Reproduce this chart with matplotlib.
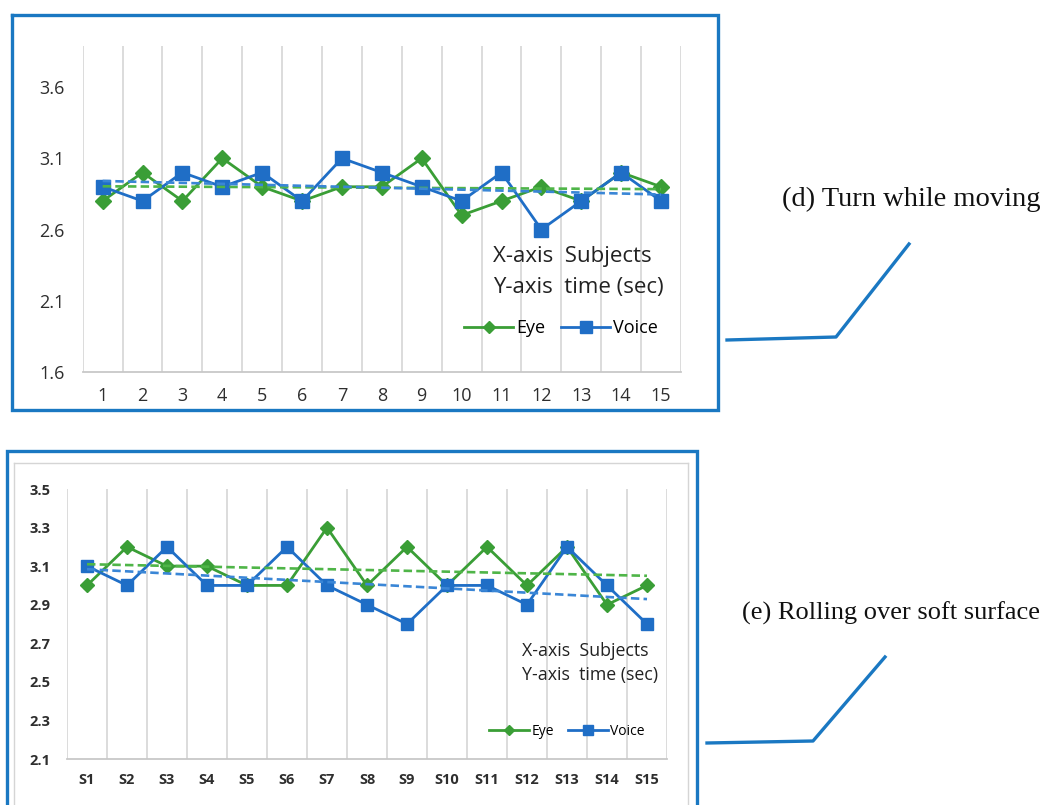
import numpy as np
import matplotlib
matplotlib.use("Agg")
import matplotlib.pyplot as plt
from matplotlib.lines import Line2D

plt.rcParams["font.family"] = ["Open Sans", "DejaVu Sans"]

# ---- (d) Turn while moving ----
subjects_d = [str(i) for i in range(1, 16)]
eye_d = [2.8, 3.0, 2.8, 3.1, 2.9, 2.8, 2.9, 2.9, 3.1, 2.7, 2.8, 2.9, 2.8, 3.0, 2.9]
voice_d = [2.9, 2.8, 3.0, 2.9, 3.0, 2.8, 3.1, 3.0, 2.9, 2.8, 3.0, 2.6, 2.8, 3.0, 2.8]
yticks_d = [1.6, 2.1, 2.6, 3.1, 3.6]

# ---- (e) Rolling over soft surface ----
subjects_e = ["S%d" % i for i in range(1, 16)]
eye_e = [3.0, 3.2, 3.1, 3.1, 3.0, 3.0, 3.3, 3.0, 3.2, 3.0, 3.2, 3.0, 3.2, 2.9, 3.0]
voice_e = [3.1, 3.0, 3.2, 3.0, 3.0, 3.2, 3.0, 2.9, 2.8, 3.0, 3.0, 2.9, 3.2, 3.0, 2.8]
eye_err_e = 0.015
yticks_e = [2.1, 2.3, 2.5, 2.7, 2.9, 3.1, 3.3, 3.5]

caption_d = "(d) Turn while moving"
caption_e = "(e) Rolling over soft surface"

GREEN = "#3a9e36"
BLUE = "#1f6ec6"
GREEN_T = "#4fb548"
BLUE_T = "#3a86d6"
FRAME = "#1a78c2"
GRID = "#d9d9d9"

W, H = 1043, 805
fig = plt.figure(figsize=(W / 100, H / 100), dpi=100)


def px_axes(x0, x1, y0, y1):
    return fig.add_axes([x0 / W, 1 - y1 / H, (x1 - x0) / W, (y1 - y0) / H])


def style_axes(ax, n, labels, yticks, ylim, tick_fs, bold, ypad, xpad):
    x = np.arange(1, n + 1)
    ax.set_xlim(0.5, n + 0.5)
    ax.set_ylim(*ylim)
    ax.set_xticks(x)
    ax.set_xticklabels(labels)
    ax.set_xticks(np.arange(0.5, n + 1, 1.0), minor=True)
    ax.grid(True, which="minor", axis="x", color=GRID, lw=1.3)
    ax.set_yticks(yticks)
    ax.set_yticklabels(["%.1f" % v for v in yticks])
    ax.tick_params(which="both", length=0)
    ax.tick_params(axis="x", pad=xpad, labelsize=tick_fs, labelcolor="#2e2e2e")
    ax.tick_params(axis="y", pad=ypad, labelsize=tick_fs, labelcolor="#2e2e2e")
    for lab in ax.get_xticklabels() + ax.get_yticklabels():
        lab.set_fontweight("bold" if bold else "normal")
    for s in ("left", "right", "top"):
        ax.spines[s].set_visible(False)
    ax.spines["bottom"].set_color("#c8c8c8")
    ax.spines["bottom"].set_linewidth(1.3)
    ax.set_axisbelow(True)
    ax.patch.set_alpha(0)


def draw_series(ax, eye, voice, ms_d, ms_s, eye_err=None):
    x = np.arange(1, len(eye) + 1)
    if eye_err is None:
        ax.plot(x, eye, color=GREEN, lw=2.0, marker="D", ms=ms_d, zorder=3)
    else:
        ax.errorbar(x, eye, yerr=eye_err, color=GREEN, lw=2.0, marker="D",
                    ms=ms_d, capsize=3, elinewidth=1.2, ecolor="#6a8a60", zorder=3)
    ax.plot(x, voice, color=BLUE, lw=2.0, marker="s", ms=ms_s, zorder=4)
    for vals, col in ((eye, GREEN_T), (voice, BLUE_T)):
        k, b = np.polyfit(x, vals, 1)
        ax.plot(x, k * x + b, color=col, lw=1.9, ls=(0, (3.2, 1.6)), zorder=5)


# Chart (d)
ax_d = px_axes(82.7, 681, 46, 372)
style_axes(ax_d, 15, subjects_d, yticks_d, (1.6, 3.888), 13, False, 13, 11)
draw_series(ax_d, eye_d, voice_d, 8.5, 9.5)
ax_d.text(493 / W, 1 - 256 / H, "X-axis  Subjects", transform=fig.transFigure,
          fontsize=16, color="#222222", va="center", ha="left")
ax_d.text(493 / W, 1 - 288 / H, "Y-axis  time (sec)", transform=fig.transFigure,
          fontsize=16, color="#222222", va="center", ha="left")
h_d = [Line2D([], [], color=GREEN, lw=2.0, marker="D", ms=6.5),
       Line2D([], [], color=BLUE, lw=2.0, marker="s", ms=8)]
ax_d.legend(h_d, ["Eye", "Voice"], ncol=2, frameon=False, fontsize=13,
            handlelength=2.7, handletextpad=0.15, columnspacing=0.9,
            loc="center", bbox_to_anchor=(561 / W, 1 - 328 / H),
            bbox_transform=fig.transFigure, numpoints=1)

# Chart (e)
ax_e = px_axes(67, 667, 489, 759)
style_axes(ax_e, 15, subjects_e, yticks_e, (2.1, 3.5), 10.5, True, 12, 10)
draw_series(ax_e, eye_e, voice_e, 7.5, 9, eye_err=eye_err_e)
ax_e.text(522 / W, 1 - 651 / H, "X-axis  Subjects", transform=fig.transFigure,
          fontsize=12.8, color="#222222", va="center", ha="left")
ax_e.text(522 / W, 1 - 675 / H, "Y-axis  time (sec)", transform=fig.transFigure,
          fontsize=12.8, color="#222222", va="center", ha="left")
h_e = [Line2D([], [], color=GREEN, lw=2.0, marker="D", ms=5.5),
       Line2D([], [], color=BLUE, lw=2.0, marker="s", ms=7)]
ax_e.legend(h_e, ["Eye", "Voice"], ncol=2, frameon=False, fontsize=10,
            handlelength=2.9, handletextpad=0.15, columnspacing=1.0,
            loc="center", bbox_to_anchor=(567 / W, 1 - 731 / H),
            bbox_transform=fig.transFigure, numpoints=1)

# Overlay: panel frames, captions and connector strokes
ov = fig.add_axes([0, 0, 1, 1], zorder=10)
ov.set_xlim(0, W)
ov.set_ylim(H, 0)
ov.axis("off")
ov.patch.set_alpha(0)

ov.plot([12, 718, 718, 12, 12], [15, 15, 410, 410, 15], color=FRAME, lw=2.4,
        solid_joinstyle="miter")
ov.plot([14, 688], [463, 463], color="#d5d5d5", lw=1.0)
ov.plot([14, 14], [463, 810], color="#d5d5d5", lw=1.0)
ov.plot([688, 688], [463, 810], color="#d5d5d5", lw=1.0)
ov.plot([7, 7, 697, 697], [810, 451, 451, 810], color=FRAME, lw=2.4,
        solid_joinstyle="miter")

ov.text(1040, 199, caption_d, family="Liberation Serif", fontsize=20.5,
        ha="right", va="center", color="#111111")
ov.text(1040, 613, caption_e, family="Liberation Serif", fontsize=19,
        ha="right", va="center", color="#111111")
ov.plot([727, 836, 909], [340, 337, 244], color=FRAME, lw=2.4)
ov.plot([707, 813, 885], [743, 741, 657], color=FRAME, lw=2.4)

fig.savefig("out.png", dpi=100)
